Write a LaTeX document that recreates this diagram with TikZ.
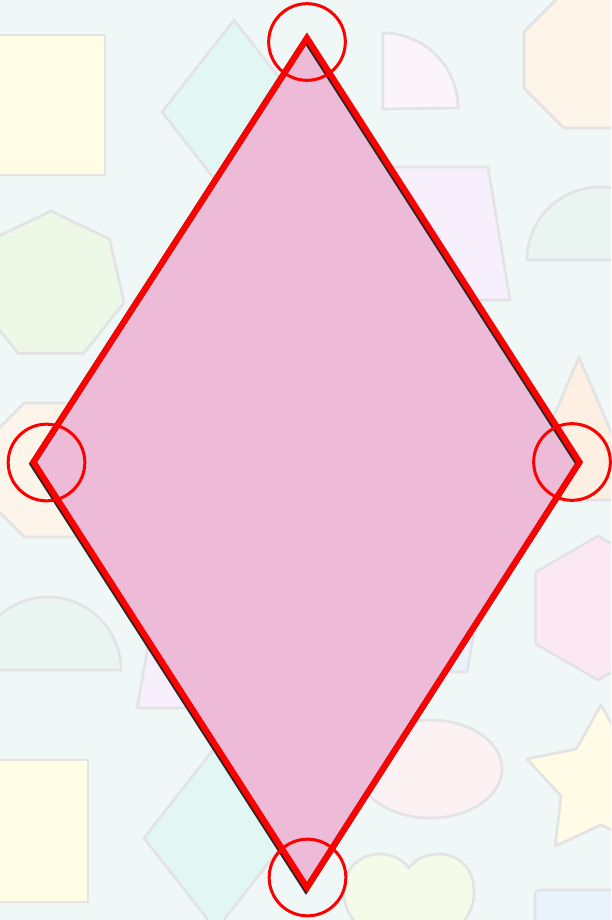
\documentclass[tikz,border=0pt]{standalone}
\usepackage{tikz}

\definecolor{bgcyan}{HTML}{EFF8F7}
\definecolor{shapegray}{HTML}{E3E3E3}
\definecolor{sqyellow}{HTML}{FFFDE6}
\definecolor{kitecyan}{HTML}{E2F6F4}
\definecolor{qlilac}{HTML}{FBF4FB}
\definecolor{octpeach}{HTML}{FDF4EA}
\definecolor{traplilac}{HTML}{F7F0FC}
\definecolor{semimint}{HTML}{EAF5F1}
\definecolor{heptgreen}{HTML}{EEF8E6}
\definecolor{tripeach}{HTML}{FDF0E3}
\definecolor{hexpink}{HTML}{FBE8F3}
\definecolor{ellpink}{HTML}{FDF2F3}
\definecolor{staryellow}{HTML}{FFFBE6}
\definecolor{heartgreen}{HTML}{F5FBE9}
\definecolor{rectblue}{HTML}{EAF2FC}
\definecolor{rhombpink}{HTML}{EDBAD8}

\begin{document}
\begin{tikzpicture}[x=0.75pt,y=-0.75pt,
  faint/.style={draw=shapegray,line width=2pt,line join=round},
  ring/.style={circle,draw=red,line width=2.25pt,minimum size=57.5pt,inner sep=0pt}]
		\fill[bgcyan] (0,0) rectangle (611,920);
		\useasboundingbox (0,0) rectangle (611,920);
		
		% faint shapes in the background
		\begin{scope}
		\clip (0,0) rectangle (611,920);
		\filldraw[faint,fill=sqyellow] (-5,35) rectangle (105,175);
		\filldraw[faint,fill=kitecyan] (234,20) -- (306,112) -- (234,204) -- (162,112) -- cycle;
		\filldraw[faint,fill=qlilac] (383,109) -- (383,33) arc[start angle=-90,end angle=0,radius=75] -- cycle;
		\filldraw[faint,fill=octpeach,shift={(592,60)}] (22.5:73.6) \foreach \k in {1,...,7} {-- ({22.5+45*\k}:73.6)} -- cycle;
		\filldraw[faint,fill=traplilac] (370,167) -- (488,167) -- (510,300) -- (348,300) -- cycle;
		\filldraw[faint,fill=semimint] (527,260) arc[start angle=180,end angle=360,radius=73] -- cycle;
		\filldraw[faint,fill=heptgreen,shift={(51,286)}] (-90:75) \foreach \k in {1,...,6} {-- ({-90+51.43*\k}:75)} -- cycle;
		\filldraw[faint,fill=octpeach,shift={(52,470)}] (22.5:72.5) \foreach \k in {1,...,7} {-- ({22.5+45*\k}:72.5)} -- cycle;
		\filldraw[faint,fill=tripeach] (579,357) -- (640,500) -- (518,500) -- cycle;
		\filldraw[faint,fill=hexpink,shift={(598,608)}] (90:72) \foreach \k in {1,...,5} {-- ({90+60*\k}:72)} -- cycle;
		\filldraw[faint,fill=semimint] (-25,670) arc[start angle=180,end angle=360,radius=73] -- cycle;
		\filldraw[faint,fill=traplilac] (161,575) -- (268,575) -- (290,708) -- (137,708) -- cycle;
		\filldraw[faint,fill=rectblue] (360,600) -- (480,600) -- (467,672) -- (373,672) -- cycle;
		\filldraw[faint,fill=ellpink] (430,769) ellipse[x radius=72,y radius=49];
		\filldraw[faint,fill=staryellow,shift={(601,783)}] (-90:78) \foreach \k in {0,...,4} {-- ({-54+72*\k}:42) -- ({-18+72*\k}:78)} -- cycle;
		\filldraw[faint,fill=sqyellow] (-5,760) rectangle (88,902);
		\filldraw[faint,fill=kitecyan] (216,746) -- (288,838) -- (216,930) -- (144,838) -- cycle;
		\filldraw[faint,fill=heartgreen] (409,868) .. controls (425,845) and (476,848) .. (474,895) .. controls (472,930) and (430,945) .. (409,975) .. controls (388,945) and (346,930) .. (344,895) .. controls (342,848) and (393,845) .. (409,868) -- cycle;
		\filldraw[faint,fill=rectblue,rounded corners=3pt] (535,890) rectangle (625,935);
		\end{scope}
		
		% the rhombus
		\coordinate (top) at (307,38);
		\coordinate (right) at (579.5,462);
		\coordinate (bottom) at (307,887.5);
		\coordinate (left) at (33.5,462);
		\fill[rhombpink] (top) -- (right) -- (bottom) -- (left) -- cycle;
		\draw[black!85,line width=4.5pt,transform canvas={xshift=-0.8pt,yshift=-1.3pt}] (top) -- (right) -- (bottom) -- (left) -- cycle;
		\draw[red,line width=4.5pt] (top) -- (right) -- (bottom) -- (left) -- cycle;
		
		% rings at the corners
		\node[ring] (ringT) at (307,42) {};
		\node[ring] (ringR) at (572,462) {};
		\node[ring] (ringB) at (307.5,877.5) {};
		\node[ring] (ringL) at (46.5,462.5) {};
		\end{tikzpicture}
\end{document}
